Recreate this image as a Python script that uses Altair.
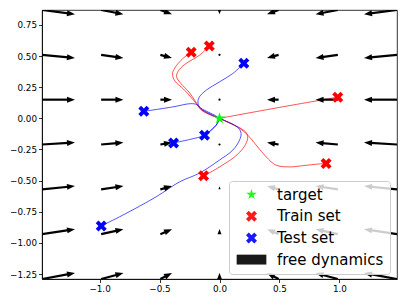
import math
import numpy as np
import pandas as pd
import altair as alt

# ---------------- layout constants ----------------
W, H = 355, 269
XDOM = [-1.48, 1.48]
YDOM = [-1.29, 0.87]

# ---------------- quiver field ----------------
grid_x = [-1.48, -0.987, -0.493, 0.0, 0.493, 0.987, 1.48]
grid_y = [-1.29, -0.93, -0.57, -0.21, 0.15, 0.51, 0.87]
u_cols = [0.275, 0.186, 0.097, 0.0, -0.097, -0.186, -0.275]
v_rows = [0.048, 0.040, 0.026, 0.016, 0.0, -0.026, -0.034]
v_center = [0.050, 0.042, 0.024, 0.008, 0.0, -0.010, -0.035]

# ---------------- trajectories ----------------
train_1 = [(-0.236, 0.530), (-0.306, 0.480), (-0.372, 0.405), (-0.392, 0.357), (-0.372, 0.300),
           (-0.300, 0.235), (-0.240, 0.172), (-0.195, 0.120), (-0.150, 0.068), (-0.070, 0.026), (0.0, 0.0)]
train_2 = [(-0.085, 0.580), (-0.167, 0.507), (-0.290, 0.433), (-0.345, 0.378), (-0.358, 0.335),
           (-0.322, 0.280), (-0.255, 0.212), (-0.200, 0.135), (-0.155, 0.070), (-0.070, 0.026), (0.0, 0.0)]
train_3 = [(0.986, 0.170), (0.50, 0.088), (0.0, 0.0)]
train_4 = [(0.889, -0.363), (0.833, -0.366), (0.694, -0.380), (0.580, -0.390), (0.470, -0.375),
           (0.390, -0.310), (0.306, -0.215), (0.222, -0.121), (0.110, -0.046), (0.0, 0.0)]
train_5 = [(-0.133, -0.461), (-0.060, -0.425), (0.0, -0.390), (0.125, -0.310), (0.205, -0.229),
           (0.235, -0.160), (0.225, -0.118), (0.190, -0.088), (0.100, -0.045), (0.0, 0.0)]

test_1 = [(0.203, 0.443), (0.111, 0.360), (0.0, 0.293), (-0.111, 0.226), (-0.167, 0.173),
          (-0.180, 0.132), (-0.167, 0.092), (-0.111, 0.058), (-0.042, 0.026), (0.0, 0.0)]
test_2 = [(-0.631, 0.056), (-0.389, 0.092), (-0.240, 0.118), (-0.190, 0.110), (-0.139, 0.066),
          (-0.069, 0.031), (0.0, 0.0)]
test_3 = [(-0.125, -0.136), (-0.070, -0.095), (-0.028, -0.055), (-0.005, -0.015), (0.0, 0.0)]
test_4 = [(-0.383, -0.197), (-0.250, -0.170), (-0.125, -0.136), (-0.070, -0.095), (-0.028, -0.055),
          (-0.005, -0.015), (0.0, 0.0)]
test_5 = [(-0.986, -0.864), (-0.806, -0.777), (-0.528, -0.630), (-0.333, -0.510), (-0.167, -0.440),
          (0.0, -0.335), (0.111, -0.255), (0.167, -0.175), (0.180, -0.121), (0.160, -0.080),
          (0.110, -0.048), (0.050, -0.022), (0.0, 0.0)]

target = (0.0, 0.0)

series_names = ["target", "Train set", "Test set", "free dynamics"]
series_colors = ["#00ff00", "#ff0000", "#0000ff", "#000000"]

# ---------------- marker shapes (styles) ----------------
X_PATH = ("M-0.5,-1L0,-0.5L0.5,-1L1,-0.5L0.5,0L1,0.5L0.5,1L0,0.5L-0.5,1L-1,0.5L-0.5,0L-1,-0.5Z")
pts = []
for k in range(10):
    r = 1.0 if k % 2 == 0 else 0.381966
    a = math.radians(-90 + 36 * k)
    pts.append(f"{r*math.cos(a):.4f},{r*math.sin(a):.4f}")
STAR_PATH = "M" + "L".join(pts) + "Z"
RECT_PATH = "M-2.7,-0.9L2.7,-0.9L2.7,0.9L-2.7,0.9Z"
HEAD_PATH = "M-1,-0.75L1,0L-1,0.75Z"
series_shapes = [STAR_PATH, X_PATH, X_PATH, RECT_PATH]

# ---------------- tables ----------------
line_rows = []
for name, path, col in [("tr1", train_1, "red"), ("tr2", train_2, "red"), ("tr3", train_3, "red"),
                        ("tr4", train_4, "red"), ("tr5", train_5, "red"),
                        ("te1", test_1, "blue"), ("te2", test_2, "blue"), ("te3", test_3, "blue"),
                        ("te4", test_4, "blue"), ("te5", test_5, "blue")]:
    for k, (x, y) in enumerate(path):
        line_rows.append({"id": name, "ord": k, "x": x, "y": y, "col": col})
df_lines = pd.DataFrame(line_rows)

mark_rows = []
for p in [train_1, train_2, train_3, train_4, train_5]:
    mark_rows.append({"series": "Train set", "x": p[0][0], "y": p[0][1]})
for p in [test_1, test_2, test_3, test_4, test_5]:
    mark_rows.append({"series": "Test set", "x": p[0][0], "y": p[0][1]})
df_marks = pd.DataFrame(mark_rows)
df_star = pd.DataFrame([{"series": "target", "x": target[0], "y": target[1]}])

sx = W / (XDOM[1] - XDOM[0])
sy = H / (YDOM[1] - YDOM[0])
HEAD_L, MIN_L = 8.0, 1.7
shafts, heads, dots = [], [], []
for j, gy in enumerate(grid_y):
    for i, gx in enumerate(grid_x):
        u = u_cols[i]
        v = v_center[j] if i == 3 else v_rows[j]
        px, py = u * sx, -v * sy
        L = math.hypot(px, py)
        if L < MIN_L:
            dots.append({"x": gx, "y": gy})
            continue
        ux, uy = px / L, py / L
        hl = min(HEAD_L, L)
        tx, ty = gx + u, gy + v
        heads.append({"x": tx - (hl / 2) * ux / sx, "y": ty + (hl / 2) * uy / sy,
                      "angle": math.degrees(math.atan2(uy, ux)) % 360, "size": hl * hl})
        if L > hl:
            shafts.append({"x": gx, "y": gy,
                           "x2": tx - (hl - 1.5) * ux / sx, "y2": ty + (hl - 1.5) * uy / sy})
df_shafts = pd.DataFrame(shafts)
df_heads = pd.DataFrame(heads)
df_dots = pd.DataFrame(dots)

# ---------------- chart ----------------
xs = alt.Scale(domain=XDOM, nice=False, zero=False)
ys = alt.Scale(domain=YDOM, nice=False, zero=False)
xaxis = alt.Axis(values=[-1.0, -0.5, 0.0, 0.5, 1.0], format=".1f", title=None)
yaxis = alt.Axis(values=[-1.25, -1.0, -0.75, -0.5, -0.25, 0.0, 0.25, 0.5, 0.75], format=".2f", title=None)
X = alt.X("x:Q", scale=xs, axis=xaxis)
Y = alt.Y("y:Q", scale=ys, axis=yaxis)

legend = alt.Legend(orient="none", legendX=187, legendY=171, title=None, padding=6,
                    symbolSize=121, symbolOffset=9, labelOffset=18, rowPadding=5.7,
                    labelFontSize=15, labelFont="DejaVu Sans", labelColor="black",
                    fillColor="rgba(255,255,255,0.8)", strokeColor="#cccccc", cornerRadius=3,
                    symbolStrokeWidth=0, symbolOpacity=1)
color = alt.Color("series:N", scale=alt.Scale(domain=series_names, range=series_colors), legend=legend)
shape = alt.Shape("series:N", scale=alt.Scale(domain=series_names, range=series_shapes), legend=legend)

lines = alt.Chart(df_lines).mark_line(strokeWidth=0.75, interpolate="catmull-rom", clip=True, opacity=0.9).encode(
    x=X, y=Y, color=alt.Color("col:N", scale=None), detail="id:N", order="ord:Q")

shaft_layer = alt.Chart(df_shafts).mark_rule(color="black", strokeWidth=2.2, clip=True).encode(
    x=X, y=Y, x2="x2:Q", y2="y2:Q")
head_layer = alt.Chart(df_heads).mark_point(filled=True, color="black", opacity=1, strokeWidth=0,
                                            shape=HEAD_PATH, clip=True).encode(
    x=X, y=Y, angle=alt.Angle("angle:Q", scale=None), size=alt.Size("size:Q", scale=None))
dot_layer = alt.Chart(df_dots).mark_circle(color="black", size=5, opacity=1, clip=True).encode(x=X, y=Y)

star_layer = alt.Chart(df_star).mark_point(filled=True, size=150, opacity=1, strokeWidth=0).encode(
    x=X, y=Y, color=color, shape=shape)
x_layer = alt.Chart(df_marks).mark_point(filled=True, size=121, opacity=1, strokeWidth=0).encode(
    x=X, y=Y, color=color, shape=shape)

chart = alt.layer(lines, shaft_layer, head_layer, dot_layer, star_layer, x_layer).properties(
    width=W, height=H, autosize=alt.AutoSizeParams(type="none"),
    padding={"left": 34, "top": 2, "right": 2, "bottom": 18},
).configure_axis(
    labelFont="DejaVu Sans", labelFontSize=8.8, labelColor="black", tickColor="black",
    domainColor="black", tickSize=3.5, labelPadding=2, grid=False, domainWidth=0.8, tickWidth=0.8,
).configure_view(stroke="black", strokeWidth=0.8)

chart.save("out.html", embed_options={"renderer": "svg", "actions": False})
